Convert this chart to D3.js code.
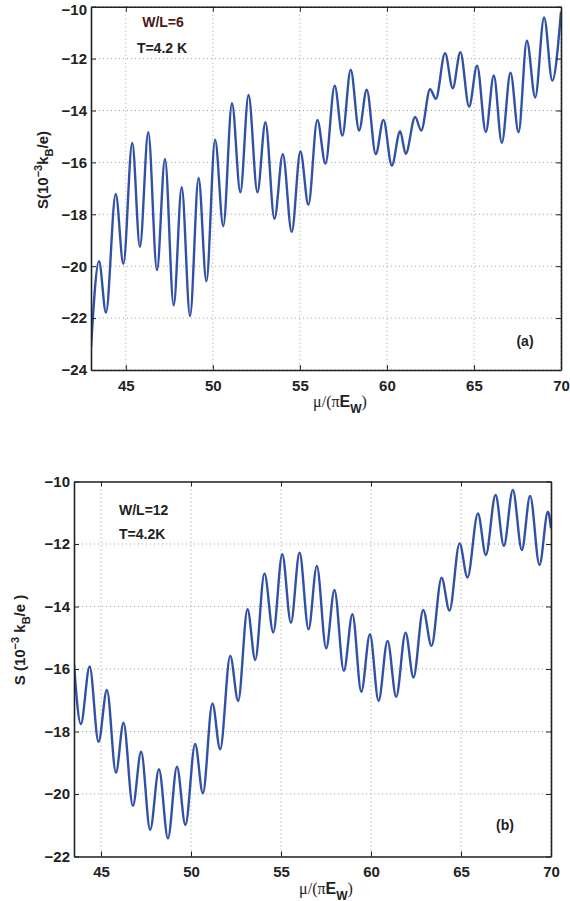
<!DOCTYPE html>
<html><head><meta charset="utf-8">
<script src="https://cdn.jsdelivr.net/npm/d3@7"></script>
<style>body{margin:0;background:#fff}svg{display:block}</style>
</head><body>
<svg id="c" width="570" height="901"></svg>
<script>
// ---- data: panel (a), W/L=6 ----
const topX = [43.0,43.46,43.86,44.42,44.86,45.37,45.81,46.29,46.79,47.25,47.75,48.21,48.69,49.18,49.63,50.13,50.6,51.1,51.58,52.05,52.56,53.02,53.54,54.02,54.53,55.03,55.49,56.0,56.47,57.0,57.44,57.92,58.4,58.84,59.36,59.8,60.28,60.76,61.08,61.62,61.97,62.48,62.81,63.34,63.78,64.22,64.72,65.18,65.68,66.14,66.6,67.1,67.56,68.04,68.52,69.03,69.5,70.0];
const topY = [-23.13,-19.81,-21.79,-17.22,-19.91,-15.25,-19.25,-14.84,-20.15,-15.87,-21.51,-16.96,-21.92,-16.6,-20.58,-15.13,-18.46,-13.72,-17.15,-13.4,-17.15,-14.45,-18.17,-15.68,-18.68,-15.58,-17.63,-14.36,-16.05,-13.04,-14.97,-12.43,-14.77,-13.2,-15.68,-14.36,-16.12,-14.8,-15.67,-14.25,-14.77,-13.18,-13.55,-11.79,-13.14,-11.75,-13.85,-12.27,-14.83,-12.65,-15.25,-12.54,-14.84,-11.31,-13.5,-10.41,-12.85,-10.19];
// ---- data: panel (b), W/L=12 ----
const botX = [43.5,43.88,44.37,44.86,45.33,45.83,46.25,46.77,47.23,47.73,48.22,48.72,49.22,49.69,50.23,50.66,51.19,51.62,52.18,52.62,53.14,53.57,54.08,54.57,55.07,55.55,56.03,56.53,56.99,57.51,57.97,58.49,58.97,59.46,59.94,60.42,60.92,61.4,61.92,62.36,62.9,63.36,63.92,64.36,64.92,65.36,65.94,66.38,66.92,67.38,67.88,68.38,68.84,69.36,69.83,70.0];
const botY = [-15.85,-17.76,-15.92,-18.33,-16.67,-19.32,-17.72,-20.38,-18.65,-21.15,-19.21,-21.42,-19.13,-20.99,-18.4,-19.98,-17.1,-18.57,-15.58,-17.02,-14.09,-15.71,-12.94,-14.83,-12.33,-14.52,-12.28,-14.73,-12.7,-15.34,-13.47,-16.06,-14.25,-16.73,-14.89,-17.02,-15.1,-16.89,-14.84,-16.27,-14.11,-15.26,-13.08,-14.13,-11.98,-13.07,-11.02,-12.35,-10.43,-12.06,-10.27,-12.19,-10.46,-12.67,-10.97,-11.5];
const xTicks = [45,50,55,60,65,70];
const yTicksTop = [-24,-22,-20,-18,-16,-14,-12,-10];
const yTicksBot = [-22,-20,-18,-16,-14,-12,-10];

const svg = d3.select("#c");
const FONT = "'Liberation Sans', Arial, Helvetica, sans-serif";
const LINE = "#3051a6";

function panel(cfg){
  const g = svg.append("g");
  const x = d3.scaleLinear().domain(cfg.xDom).range([cfg.x0, cfg.x1]);
  const y = d3.scaleLinear().domain(cfg.yDom).range([cfg.y1, cfg.y0]);
  const id = "clip" + cfg.name;
  svg.append("clipPath").attr("id", id).append("rect")
    .attr("x", cfg.x0).attr("y", cfg.y0).attr("width", cfg.x1-cfg.x0).attr("height", cfg.y1-cfg.y0);
  // grid
  g.append("g").selectAll("line").data(cfg.xTicks).join("line")
    .attr("x1", d=>x(d)).attr("x2", d=>x(d)).attr("y1", cfg.y0).attr("y2", cfg.y1)
    .attr("stroke","#8a8a8a").attr("stroke-width",0.8).attr("stroke-dasharray","1,3");
  g.append("g").selectAll("line").data(cfg.yTicks).join("line")
    .attr("y1", d=>y(d)).attr("y2", d=>y(d)).attr("x1", cfg.x0).attr("x2", cfg.x1)
    .attr("stroke","#8a8a8a").attr("stroke-width",0.8).attr("stroke-dasharray","1,3");
  // curve
  const pts = cfg.xs.map((v,i)=>[v, cfg.ys[i]]);
  g.append("path").datum(pts).attr("clip-path", `url(#${id})`)
    .attr("fill","none").attr("stroke",LINE).attr("stroke-width",2.4)
    .attr("d", d3.line().x(d=>x(d[0])).y(d=>y(d[1])).curve(d3.curveMonotoneX));
  // axes (inward ticks on all sides)
  const fmt = d3.format("d");
  const ab = g.append("g").attr("transform",`translate(0,${cfg.y1})`)
    .call(d3.axisBottom(x).tickValues(cfg.xTicks).tickSizeInner(-5).tickSizeOuter(0).tickPadding(10).tickFormat(fmt));
  const at = g.append("g").attr("transform",`translate(0,${cfg.y0})`)
    .call(d3.axisTop(x).tickValues(cfg.xTicks).tickSizeInner(-5).tickSizeOuter(0).tickFormat(""));
  const al = g.append("g").attr("transform",`translate(${cfg.x0},0)`)
    .call(d3.axisLeft(y).tickValues(cfg.yTicks).tickSizeInner(-5).tickSizeOuter(0).tickPadding(4).tickFormat(fmt));
  const ar = g.append("g").attr("transform",`translate(${cfg.x1},0)`)
    .call(d3.axisRight(y).tickValues(cfg.yTicks).tickSizeInner(-5).tickSizeOuter(0).tickFormat(""));
  [ab,at,al,ar].forEach(a=>{
    a.select(".domain").attr("stroke","#222").attr("stroke-width",1.6);
    a.selectAll(".tick line").attr("stroke","#222").attr("stroke-width",1);
    a.selectAll("text").attr("font-family",FONT).attr("font-weight","bold").attr("font-size",15).attr("fill","#222");
  });
  ab.selectAll("text").attr("dy","0.71em");
  if (cfg.topLabelShift) {
    al.selectAll(".tick").filter(d=>d===cfg.yDom[1]).select("text").attr("dy", "0.5em");
  }
  // x label
  const xl = g.append("text").attr("x", cfg.xlx).attr("y", cfg.y1+37).attr("text-anchor","middle")
    .attr("fill","#222").attr("font-size",16).attr("font-family",FONT);
  xl.append("tspan").attr("font-family","'Liberation Serif', 'DejaVu Serif', serif").text("\u03bc/(\u03c0");
  xl.append("tspan").attr("font-weight","bold").text("E");
  xl.append("tspan").attr("font-weight","bold").attr("font-size",12).attr("dy",6).text("W");
  xl.append("tspan").attr("font-family","'Liberation Serif', 'DejaVu Serif', serif").attr("dy",-6).text(")");
  // y label
  const yl = g.append("text").attr("transform",`translate(${cfg.ylx},${cfg.yly}) rotate(-90)`)
    .attr("text-anchor","middle").attr("fill","#222").attr("font-size",15).attr("font-weight","bold").attr("font-family",FONT);
  cfg.ylParts.forEach(p=>{
    const t = yl.append("tspan").text(p.t);
    if(p.dy) t.attr("dy",p.dy);
    if(p.fs) t.attr("font-size",p.fs);
  });
  // annotations
  cfg.notes.forEach(n=>{
    g.append("text").attr("x",n.x).attr("y",n.y).attr("text-anchor",n.anchor||"start")
      .attr("font-family",FONT).attr("font-weight","bold").attr("font-size",n.fs||14)
      .attr("fill",n.c||"#222").text(n.t);
  });
}

panel({name:"a", xDom:[43,70], yDom:[-24,-10], x0:91, x1:561, y0:6.7, y1:370,
  xs:topX, ys:topY, xTicks:xTicks, yTicks:yTicksTop, xlx:340, ylx:48, yly:170, topLabelShift:true,
  ylParts:[{t:"S(10"},{t:"\u22123",dy:-6,fs:11},{t:"k",dy:6},{t:"B",dy:5,fs:11},{t:"/e)",dy:-5}],
  notes:[{t:"W/L=6",x:163,y:27,anchor:"middle",c:"#4a1818"},{t:"T=4.2 K",x:162,y:53,anchor:"middle"},{t:"(a)",x:525,y:346,anchor:"middle"}]});

panel({name:"b", xDom:[43.5,70], yDom:[-22,-10], x0:74, x1:551, y0:481.5, y1:856.5,
  xs:botX, ys:botY, xTicks:xTicks, yTicks:yTicksBot, xlx:326, ylx:25, yly:640,
  ylParts:[{t:"S (10"},{t:"\u22123",dy:-6,fs:11},{t:" k",dy:6},{t:"B",dy:5,fs:11},{t:"/e )",dy:-5}],
  notes:[{t:"W/L=12",x:119,y:515},{t:"T=4.2K",x:119,y:539},{t:"(b)",x:505,y:830,anchor:"middle"}]});
</script>
</body></html>
